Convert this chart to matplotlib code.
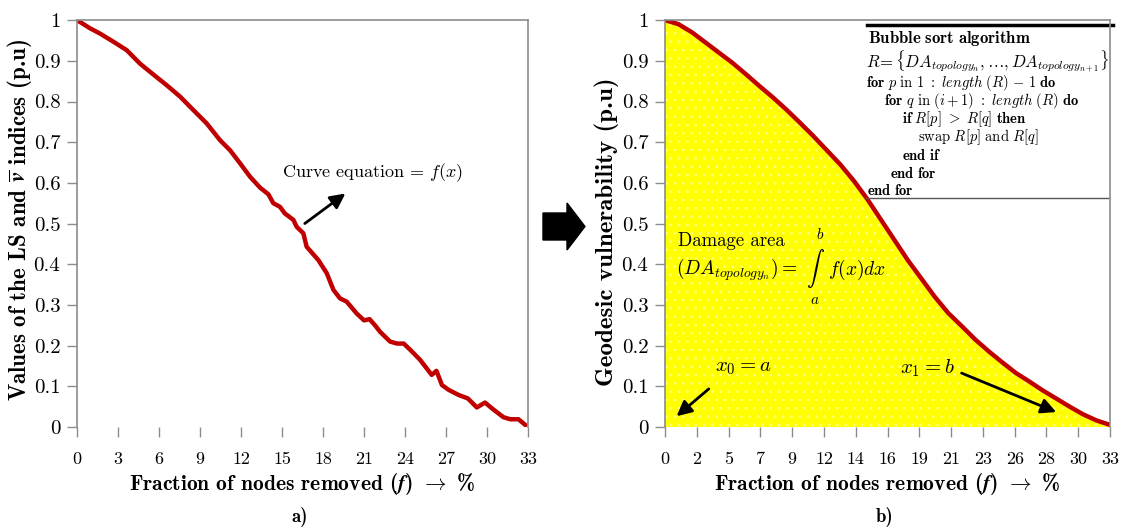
# Two panels: noisy LS/v curve (a) and smoothed geodesic vulnerability with damage area (b)
import matplotlib
matplotlib.use("Agg")
import matplotlib.pyplot as plt
from matplotlib.patches import FancyArrow

plt.rcParams["font.family"] = "cmr10"
plt.rcParams["mathtext.fontset"] = "cm"
plt.rcParams["axes.unicode_minus"] = False
plt.rcParams["hatch.linewidth"] = 0.6

# Panel a) - raw curve
frac_a = [0, 0.95, 1.68, 2.66, 3.64, 4.61, 5.34, 6.56, 7.54, 8.51, 9.49, 10.46,
          11.2, 11.93, 12.66, 13.4, 14.0, 14.36, 14.85, 15.2, 15.83, 16.07, 16.56,
          16.8, 17.66, 18.27, 18.76, 19.24, 19.73, 20.46, 21.0, 21.4, 21.8, 22.17,
          22.9, 23.4, 23.9, 24.4, 25.1, 25.95, 26.3, 26.7, 27.2, 27.9, 28.6, 29.25,
          29.85, 30.46, 31.2, 31.7, 32.3, 32.8]
vals_a = [1.0, 0.98, 0.967, 0.947, 0.926, 0.893, 0.873, 0.84, 0.812, 0.779, 0.746,
          0.705, 0.68, 0.648, 0.615, 0.588, 0.572, 0.55, 0.541, 0.525, 0.509, 0.492,
          0.476, 0.443, 0.41, 0.378, 0.337, 0.316, 0.308, 0.279, 0.262, 0.265, 0.25,
          0.234, 0.21, 0.205, 0.205, 0.189, 0.165, 0.128, 0.138, 0.103, 0.091, 0.079,
          0.07, 0.048, 0.06, 0.043, 0.024, 0.019, 0.019, 0.005]
xticks_a = [0, 3, 6, 9, 12, 15, 18, 21, 24, 27, 30, 33]

# Panel b) - smooth curve
frac_b = [0, 1, 2, 3, 4, 5, 6, 7, 8, 9, 10, 11, 12, 13, 14, 15, 16, 17, 18, 19,
          20, 21, 22, 23, 24, 25, 26, 27, 28, 29, 30, 31, 32, 33]
vals_b = [1.0, 0.99, 0.97, 0.945, 0.92, 0.895, 0.867, 0.838, 0.81, 0.78, 0.748,
          0.715, 0.68, 0.645, 0.605, 0.56, 0.51, 0.46, 0.41, 0.365, 0.32, 0.28,
          0.248, 0.215, 0.186, 0.159, 0.133, 0.112, 0.09, 0.07, 0.05, 0.031, 0.016, 0.005]
xticklabels_b = ["0", "2", "5", "7", "9", "12", "14", "16", "19", "21", "23",
                 "26", "28", "30", "33"]
yticks = [0, 0.1, 0.2, 0.3, 0.4, 0.5, 0.6, 0.7, 0.8, 0.9, 1]
yticklabels = ["0", "0.1", "0.2", "0.3", "0.4", "0.5", "0.6", "0.7", "0.8", "0.9", "1"]

RED = "#c00000"
GREY = "#8c8c8c"
XLABEL = r"Fraction of nodes removed ($\boldsymbol{f}$) $\mathbf{\rightarrow}$ %"
ARROW = dict(arrowstyle="-|>,head_length=0.9,head_width=0.45", color="black", lw=2)

fig = plt.figure(figsize=(11.31, 5.27), dpi=100)
ax1 = fig.add_axes([0.0681, 0.1898, 0.3988, 0.772])
ax2 = fig.add_axes([0.588, 0.1898, 0.3935, 0.772])


def style(ax):
    ax.set_ylim(0, 1)
    ax.set_xlim(0, 33)
    ax.set_yticks(yticks)
    ax.set_yticklabels(yticklabels)
    for s in ["left", "top", "right"]:
        ax.spines[s].set_color(GREY)
        ax.spines[s].set_linewidth(1.2)
    ax.spines["bottom"].set_visible(False)
    ax.tick_params(axis="both", direction="out", length=7, color=GREY, width=1)
    ax.tick_params(axis="x", pad=11, labelsize=13)
    ax.tick_params(axis="y", pad=5, labelsize=15)
    ax.set_xlabel(XLABEL, fontsize=15.5, fontfamily="cmb10", labelpad=3)


# --- a)
ax1.plot(frac_a, vals_a, color=RED, lw=3.2, solid_joinstyle="round")
style(ax1)
ax1.set_xticks(xticks_a)
ax1.set_xticklabels([str(t) for t in xticks_a])
ax1.set_ylabel(r"Values of the LS and $\overline{\boldsymbol{v}}$ indices (p.u)",
               fontsize=16.5, fontfamily="cmb10")
ax1.yaxis.set_label_coords(-0.128, 0.509)
ax1.yaxis.label.set_va("center")
ax1.text(15.0, 0.624, r"Curve equation = $f(x)$", fontsize=13, va="center")
ax1.annotate("", xy=(19.8, 0.578), xytext=(16.5, 0.496), arrowprops=ARROW)

# --- b)
ax2.fill_between(frac_b, vals_b, 0, facecolor="#ffff00", edgecolor="#ffff88",
                 hatch="..", linewidth=0)
ax2.plot(frac_b, vals_b, color=RED, lw=3.2, solid_capstyle="round")
style(ax2)
pos_b = [33 / 14 * i for i in range(15)]
ax2.set_xticks(pos_b)
ax2.set_xticklabels(xticklabels_b)
ax2.set_ylabel("Geodesic vulnerability (p.u)", fontsize=18, fontfamily="cmb10")
ax2.yaxis.set_label_coords(-0.130, 0.48)
ax2.yaxis.label.set_va("center")


def dpos(px, py):
    # pixel in panel b) -> data coordinates
    return (px - 665) * 33 / 445, (427 - py) / 407


ax2.text(*dpos(678, 241), "Damage area", fontsize=13.5, va="center")
ax2.text(*dpos(676, 270), r"$(DA_{topology_n}) =$", fontsize=14, va="center")
ax2.text(*dpos(815, 268), r"$\int$", fontsize=13, va="center", ha="center")
ax2.text(*dpos(820, 234), r"$b$", fontsize=11, va="center", ha="center")
ax2.text(*dpos(815, 300), r"$a$", fontsize=11, va="center", ha="center")
ax2.text(*dpos(828, 270), r"$f(x)dx$", fontsize=14, va="center")

ax2.text(3.7, 0.145, r"$x_0 = a$", fontsize=15, va="center")
ax2.annotate("", xy=(0.7, 0.022), xytext=(3.4, 0.098), arrowprops=ARROW)
ax2.text(17.4, 0.145, r"$x_1 = b$", fontsize=15, va="center")
ax2.annotate("", xy=(29.2, 0.034), xytext=(21.8, 0.135), arrowprops=ARROW)


# Bubble sort box (pixel positions -> axes fraction)
def axf(px, py):
    return (px - 665) / 445, (427 - py) / 407


ax2.plot(*zip(axf(867, 25), axf(1113, 25)), transform=ax2.transAxes,
         color="black", lw=2.5, clip_on=False)
ax2.plot(*zip(axf(865, 198), axf(1108, 198)), transform=ax2.transAxes,
         color="#555555", lw=1, clip_on=False)
algo = [
    (868, 38, r"$\mathbf{Bubble\ sort\ algorithm}$", 12),
    (866, 62, r"$R\!=\{DA_{topology_n},\ldots,DA_{topology_{n+1}}\}$", 12),
    (866, 83, r"$\mathbf{for}\ p\ \mathrm{in\ 1\ :}\ \mathit{length}\ (R)\ \mathrm{-\ 1}\ \mathbf{do}$", 10.5),
    (884, 101, r"$\mathbf{for}\ q\ \mathrm{in}\ (\mathit{i+1})\ \mathrm{:}\ \mathit{length}\ (R)\ \mathbf{do}$", 10.5),
    (902, 119, r"$\mathbf{if}\ R[p]\ >\ R[q]\ \mathbf{then}$", 10.5),
    (918, 137, r"$\mathrm{swap}\ R[p]\ \mathrm{and}\ R[q]$", 10.5),
    (902, 155, r"$\mathbf{end\ if}$", 10.5),
    (890, 173, r"$\mathbf{end\ for}$", 10.5),
    (867, 190, r"$\mathbf{end\ for}$", 10.5),
]
for px, py, s, fs in algo:
    x, y = axf(px, py)
    ax2.text(x, y, s, transform=ax2.transAxes, fontsize=fs, va="center", ha="left")

# Block arrow between panels
fig.patches.append(FancyArrow(543 / 1131, 1 - 226.5 / 527, 24 / 1131, 0,
                              width=27 / 527, head_width=47 / 527,
                              head_length=18 / 1131, length_includes_head=False,
                              color="black", transform=fig.transFigure, figure=fig))

fig.text(300 / 1131, 1 - 517 / 527, "a)", fontsize=13.5, fontfamily="cmb10",
         ha="center", va="center")
fig.text(885 / 1131, 1 - 517 / 527, "b)", fontsize=13.5, fontfamily="cmb10",
         ha="center", va="center")

fig.savefig("out.png", dpi=100)
